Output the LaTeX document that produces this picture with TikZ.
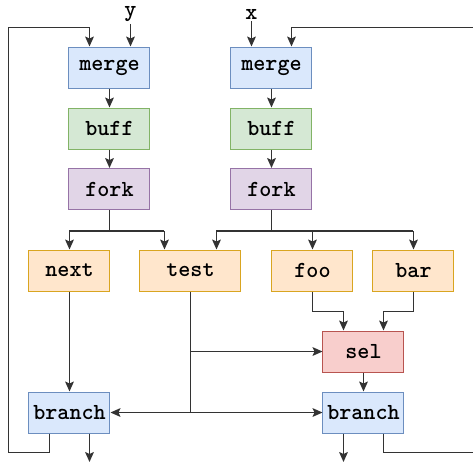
\documentclass[tikz,border=0pt]{standalone}
\usepackage{fontspec}
\usetikzlibrary{arrows.meta}

\definecolor{blueFill}{HTML}{DAE8FC}  \definecolor{blueLine}{HTML}{6C8EBF}
\definecolor{greenFill}{HTML}{D5E8D4} \definecolor{greenLine}{HTML}{82B366}
\definecolor{violetFill}{HTML}{E1D5E7}\definecolor{violetLine}{HTML}{9673A6}
\definecolor{amberFill}{HTML}{FFE6CC} \definecolor{amberLine}{HTML}{D9A520}
\definecolor{redFill}{HTML}{F8CECC}   \definecolor{redLine}{HTML}{B85450}
\definecolor{wire}{HTML}{333333}

\tikzset{
  unitFont/.style={font=\fontsize{11.5}{13}\selectfont\ttfamily\bfseries},
  unit/.style={draw, minimum height=20.5pt, minimum width=40.5pt,
    inner sep=0pt, unitFont, line width=0.5pt},
  mergeUnit/.style={unit, fill=blueFill, draw=blueLine},
  buffUnit/.style={unit, fill=greenFill, draw=greenLine},
  forkUnit/.style={unit, fill=violetFill, draw=violetLine},
  opUnit/.style={unit, fill=amberFill, draw=amberLine},
  selUnit/.style={unit, fill=redFill, draw=redLine},
  wireLine/.style={draw=wire, line width=0.55pt}
}

\begin{document}
\begin{tikzpicture}[
    x=0.5pt,
    y=-0.5pt,
    >={Stealth[length=5pt,width=4.4pt,inset=1pt]}]
    \useasboundingbox (0,0) rectangle (473,462);

    % Left channel
    \node[mergeUnit] (mergeL) at (109.5,67.5) {merge};
    \node[buffUnit]  (buffL)  at (109.5,128.5) {buff};
    \node[forkUnit]  (forkL)  at (109.5,189) {fork};

    % Right channel
    \node[mergeUnit] (mergeR) at (271.5,67.5) {merge};
    \node[buffUnit]  (buffR)  at (271.5,128.5) {buff};
    \node[forkUnit]  (forkR)  at (271.5,189) {fork};

    % Operators
    \node[opUnit] (next) at (69.5,270.5) {next};
    \node[opUnit, minimum width=50.5pt] (test) at (190.5,270.5) {test};
    \node[opUnit] (foo)  at (312.5,270.5) {foo};
    \node[opUnit] (bar)  at (413.5,270.5) {bar};
    \node[selUnit] (sel) at (363.5,351.5) {sel};

    % Branches
    \node[mergeUnit] (branchL) at (69.5,412.5) {branch};
    \node[mergeUnit] (branchR) at (363.5,412.5) {branch};

    % Inputs and free ends
    \node[unitFont, inner sep=1pt] (inY) at (130.5,14) {y};
    \node[unitFont, inner sep=1pt] (inX) at (251.5,14) {x};
    \coordinate (outL) at (89.5,462);
    \coordinate (outR) at (343.5,462);
    \coordinate (edgeTop) at (473,27.5);
    \coordinate (edgeBot) at (473,452.5);

    % Pipelines
    \draw[wireLine,->] (inY) -- (inY |- mergeL.north);
    \draw[wireLine,->] (inX) -- (inX |- mergeR.north);
    \draw[wireLine,->] (mergeL) -- (buffL);
    \draw[wireLine,->] (buffL) -- (forkL);
    \draw[wireLine,->] (mergeR) -- (buffR);
    \draw[wireLine,->] (buffR) -- (forkR);

    % Fork fan-outs
    \coordinate (testA) at ([xshift=-13pt]test.north);
    \coordinate (testB) at ([xshift=13pt]test.north);
    \draw[wireLine] (forkL.south) -- ++(0,21) coordinate (jL);
    \draw[wireLine] (next.north |- jL) -- (testA |- jL);
    \draw[wireLine,->] (next.north |- jL) -- (next.north);
    \draw[wireLine,->] (testA |- jL) -- (testA);
    \draw[wireLine] (forkR.south) -- ++(0,21) coordinate (jR);
    \draw[wireLine] (testB |- jR) -- (bar.north |- jR);
    \draw[wireLine,->] (testB |- jR) -- (testB);
    \draw[wireLine,->] (foo.north |- jR) -- (foo.north);
    \draw[wireLine,->] (bar.north |- jR) -- (bar.north);

    % Into the selector
    \draw[wireLine,->] (foo.south) -- ++(0,20) -| ([xshift=-10pt]sel.north);
    \draw[wireLine,->] (bar.south) -- ++(0,20) -| ([xshift=10pt]sel.north);
    \draw[wireLine,->] (test.south |- sel.west) -- (sel.west);
    \draw[wireLine,->] (sel) -- (branchR);

    % Condition to both branches
    \draw[wireLine] (test.south) -- (test.south |- branchL.east);
    \draw[wireLine,->] (test.south |- branchL.east) -- (branchL.east);
    \draw[wireLine,->] (test.south |- branchR.west) -- (branchR.west);
    \draw[wireLine,->] (next) -- (branchL);

    % Outputs
    \draw[wireLine,->] (outL |- branchL.south) -- (outL);
    \draw[wireLine,->] (outR |- branchR.south) -- (outR);

    % Feedback loops
    \draw[wireLine,->] ([xshift=-10pt]branchL.south) |- (8.5,452.5)
        |- (89.5,27.5) -- ([xshift=-10pt]mergeL.north);
    \draw[wireLine] ([xshift=10pt]branchR.south) |- (edgeBot);
    \draw[wireLine,->] (edgeTop) -| ([xshift=10pt]mergeR.north);
\end{tikzpicture}
\end{document}
